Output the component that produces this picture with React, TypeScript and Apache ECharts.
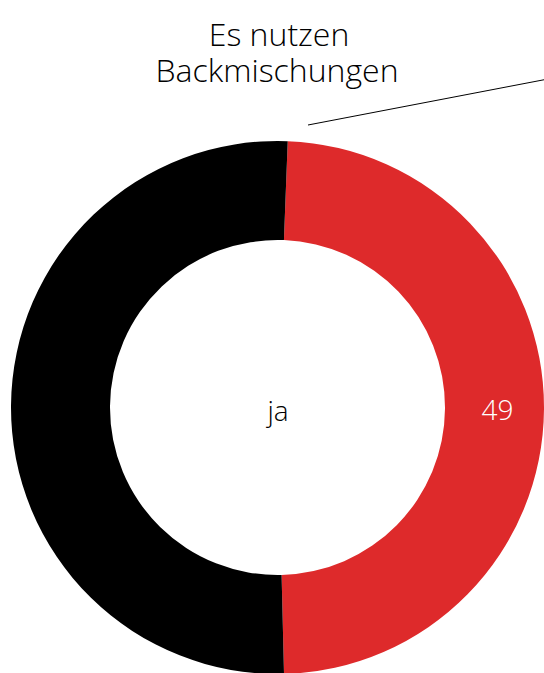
import React, { useEffect, useRef } from "react";
import * as echarts from "echarts";

const categories = ["ja", "nein"];
const values = [49, 51];
const colors = ["#DE2A2B", "#000000"];
const titleLines = ["Es nutzen", "Backmischungen"];

export default function App() {
  const ref = useRef<HTMLDivElement>(null);
  useEffect(() => {
    document.body.style.margin = "0";
    if (!ref.current) return;
    const chart = echarts.init(ref.current, null, { renderer: "svg" });
    const titleStyle = {
      align: "center",
      verticalAlign: "top",
      fontFamily: "Open Sans",
      fontWeight: 300,
      fontSize: 32,
      fill: "#000000",
    };
    chart.setOption({
      animation: false,
      backgroundColor: "#ffffff",
      graphic: [
        {
          type: "text",
          x: 279,
          y: 17,
          style: { ...titleStyle, text: titleLines[0] },
        },
        {
          type: "text",
          x: 277,
          y: 53,
          style: { ...titleStyle, text: titleLines[1] },
        },
        {
          type: "line",
          shape: { x1: 308, y1: 125, x2: 548, y2: 79 },
          style: { stroke: "#000000", lineWidth: 1 },
          silent: true,
        },
        {
          type: "text",
          x: 278,
          y: 410,
          style: {
            text: categories[0],
            align: "center",
            verticalAlign: "middle",
            fontFamily: "Open Sans",
            fontWeight: 300,
            fontSize: 28,
            fill: "#000000",
          },
        },
      ],
      series: [
        {
          type: "pie",
          center: [277.5, 407.5],
          radius: [167.5, 266.5],
          startAngle: 87.8,
          clockwise: true,
          avoidLabelOverlap: false,
          labelLine: { show: false },
          emphasis: { disabled: true },
          itemStyle: { borderWidth: 0 },
          data: categories.map((c, i) => ({
            name: c,
            value: values[i],
            itemStyle: { color: colors[i] },
            label: {
              show: i === 0,
              position: "inside",
              formatter: "{c}",
              color: "#ffffff",
              fontFamily: "Open Sans",
              fontWeight: 300,
              fontSize: 28,
            },
          })),
        },
      ],
    });
    return () => chart.dispose();
  }, []);
  return <div ref={ref} style={{ width: 544, height: 673 }} />;
}
